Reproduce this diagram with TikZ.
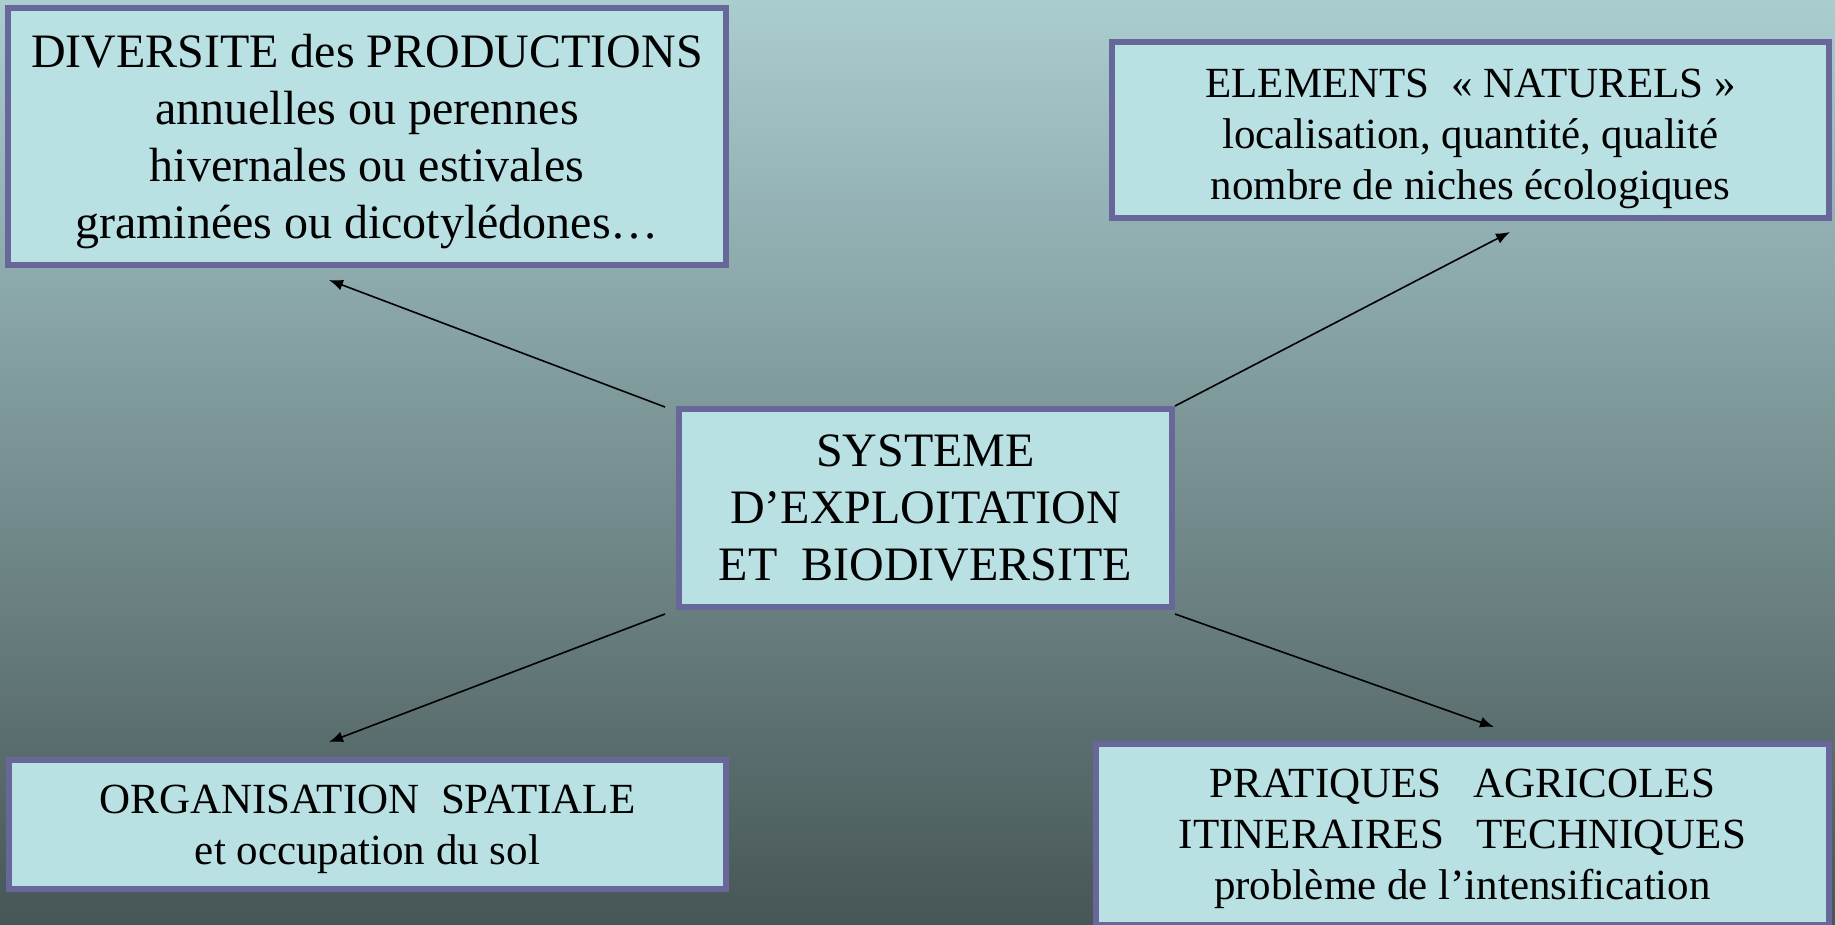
\documentclass[tikz,border=0pt]{standalone}
\usepackage{fontspec}
\setmainfont{Liberation Serif}
\usetikzlibrary{arrows.meta}
\definecolor{bgtop}{HTML}{AACDD0}
\definecolor{bgmid}{HTML}{7D9595}
\definecolor{bgbot}{HTML}{475656}
\definecolor{boxfill}{HTML}{B9E0E3}
\definecolor{boxline}{HTML}{67679A}
\tikzset{
  box/.style={draw=boxline, fill=boxfill, line width=6pt, rectangle, inner sep=0pt, outer sep=0pt, align=center, text=black, text depth=0pt},
  bigtext/.style={font=\fontsize{48}{57}\selectfont},
  smalltext/.style={font=\fontsize{43}{51}\selectfont},
  arr/.style={draw=black, line width=1.6pt, -{Latex[length=14pt,width=11pt]}}
}
\begin{document}
\begin{tikzpicture}[x=1pt,y=-1pt]
\useasboundingbox (0,0) rectangle (1835,925);
\clip (0,0) rectangle (1835,925);
\shade[top color=bgtop, middle color=bgmid, bottom color=bgbot] (0,0) rectangle (1835,925);

\node[box, bigtext, minimum width=718pt, minimum height=257pt] (prod) at (367,136.5)
  {DIVERSITE des PRODUCTIONS\\annuelles ou perennes\\hivernales ou estivales\\graminées ou dicotylédones…};
\node[box, smalltext, minimum width=717pt, minimum height=176pt] (nat) at (1470.5,130)
  {\rule{0pt}{37pt}ELEMENTS ~« NATURELS »\\localisation, quantité, qualité\\nombre de niches écologiques};
\node[box, bigtext, minimum width=493pt, minimum height=198pt] (sys) at (925.5,508)
  {SYSTEME\\D’EXPLOITATION\\ET ~BIODIVERSITE};
\node[box, smalltext, minimum width=717pt, minimum height=129pt] (org) at (367.5,824.5)
  {ORGANISATION ~SPATIALE\\et occupation du sol};
\node[box, smalltext, minimum width=733pt, minimum height=181pt] (prat) at (1462.5,834.5)
  {PRATIQUES ~~AGRICOLES\\ITINERAIRES ~~TECHNIQUES\\problème de l’intensification};

\coordinate (s1) at (665,407);
\coordinate (e1) at (329,280);
\coordinate (s2) at (1175,406);
\coordinate (e2) at (1510,232);
\coordinate (s3) at (665,614);
\coordinate (e3) at (329,742);
\coordinate (s4) at (1175,614);
\coordinate (e4) at (1494,727);
\draw[arr] (s1) -- (e1);
\draw[arr] (s2) -- (e2);
\draw[arr] (s3) -- (e3);
\draw[arr] (s4) -- (e4);
\end{tikzpicture}
\end{document}
